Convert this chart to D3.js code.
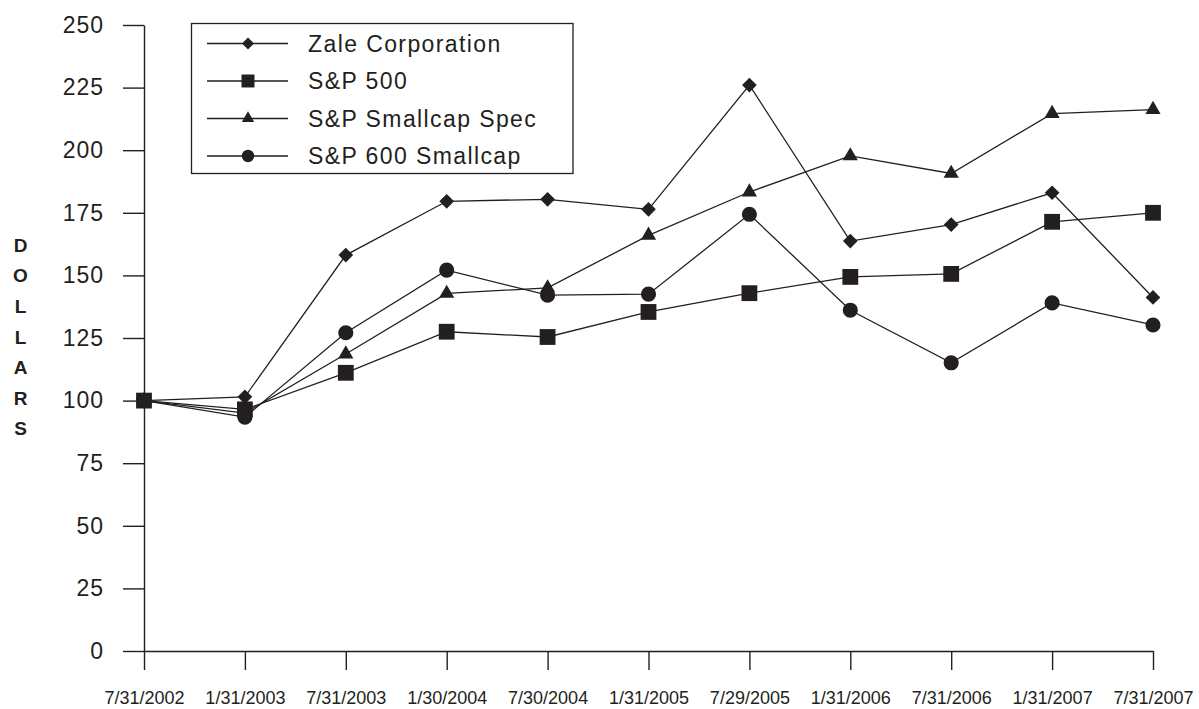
<!DOCTYPE html>
<html>
<head>
<meta charset="utf-8">
<script src="https://cdn.jsdelivr.net/npm/d3@7"></script>
<style>
  body { margin: 0; background: #fff; }
  svg { display: block; font-family: "Liberation Sans", Arial, Helvetica, sans-serif; }
</style>
</head>
<body>
<svg id="drawing_region"></svg>
<script>
// data
const dates = ['7/31/2002', '1/31/2003', '7/31/2003', '1/30/2004', '7/30/2004', '1/31/2005',
               '7/29/2005', '1/31/2006', '7/31/2006', '1/31/2007', '7/31/2007'];
const zale       = [100, 101.5, 158.1, 179.6, 180.4, 176.4, 226.0, 163.7, 170.3, 183.0, 141.2];
const sp500      = [100, 96.5, 111.1, 127.5, 125.4, 135.4, 142.9, 149.4, 150.6, 171.4, 175.0];
const spSmallcapSpec = [100, 95.0, 118.6, 142.8, 145.0, 166.0, 183.3, 197.7, 190.7, 214.6, 216.2];
const sp600      = [100, 93.4, 127.1, 152.1, 142.1, 142.5, 174.4, 136.1, 115.1, 139.0, 130.2];
const seriesNames = ['Zale Corporation', 'S&P 500', 'S&P Smallcap Spec', 'S&P 600 Smallcap'];
const yTicks = [0, 25, 50, 75, 100, 125, 150, 175, 200, 225, 250];
const ylabel = 'DOLLARS';

const ink = '#231f20';
const config = {
    width: 1199,
    height: 709,
    left: 144,
    right: 1153,
    top: 25,
    bottom: 651
};

const series = [
    { name: seriesNames[0], values: zale, shape: 'diamond' },
    { name: seriesNames[1], values: sp500, shape: 'square' },
    { name: seriesNames[2], values: spSmallcapSpec, shape: 'triangle' },
    { name: seriesNames[3], values: sp600, shape: 'circle' }
];

const svg = d3.select('#drawing_region')
    .attr('width', config.width)
    .attr('height', config.height);

const xscale = d3.scalePoint()
    .domain(dates)
    .range([config.left, config.right]);
const yscale = d3.scaleLinear()
    .domain([0, 250])
    .range([config.bottom, config.top]);

// marker shapes; big = chart, small = legend
function marker(shape, big) {
    const s = big ? 1 : 0.82;
    if (shape === 'diamond') return { path: d3.symbol(d3.symbolSquare, 108 * s * s)(), rot: 45 };
    if (shape === 'square') return { path: d3.symbol(d3.symbolSquare, 250 * s * s)(), rot: 0 };
    if (shape === 'triangle') return { path: d3.symbol(d3.symbolTriangle, 100 * s * s)(), rot: 0 };
    return { path: d3.symbol(d3.symbolCircle, 180 * s * s)(), rot: 0 };
}

// axes
const yaxis = d3.axisLeft(yscale)
    .tickValues(yTicks)
    .tickSize(21)
    .tickSizeOuter(0)
    .tickPadding(19);
const xaxis = d3.axisBottom(xscale)
    .tickSize(19)
    .tickSizeOuter(0)
    .tickPadding(21);

const yg = svg.append('g')
    .attr('transform', `translate(${config.left}, 0)`)
    .call(yaxis);
yg.selectAll('text')
    .style('font-size', '23px')
    .style('letter-spacing', '1px')
    .attr('fill', ink);

const xg = svg.append('g')
    .attr('transform', `translate(0, ${config.bottom})`)
    .call(xaxis);
xg.selectAll('text')
    .style('font-size', '18px')
    .attr('fill', ink);

svg.selectAll('.domain, .tick line')
    .attr('stroke', ink)
    .attr('stroke-width', 1.4);

// y label, letters stacked
svg.append('g').selectAll('text')
    .data(ylabel.split(''))
    .join('text')
    .attr('x', 20.5)
    .attr('y', (d, i) => 245 + i * 30.6)
    .attr('dy', '0.36em')
    .attr('text-anchor', 'middle')
    .style('font-size', '19px')
    .style('font-weight', 'bold')
    .attr('fill', ink)
    .text(d => d);

// lines
const line = d3.line()
    .x((d, i) => xscale(dates[i]))
    .y(d => yscale(d));

svg.append('g').selectAll('path')
    .data(series)
    .join('path')
    .attr('d', d => line(d.values))
    .attr('fill', 'none')
    .attr('stroke', ink)
    .attr('stroke-width', 1.3);

// markers
series.forEach(s => {
    const m = marker(s.shape, true);
    svg.append('g').selectAll('path')
        .data(s.values)
        .join('path')
        .attr('d', m.path)
        .attr('transform', (d, i) => `translate(${xscale(dates[i])}, ${yscale(d)}) rotate(${m.rot})`)
        .attr('fill', ink);
});

// legend
const legend = svg.append('g');
legend.append('rect')
    .attr('x', 191.5)
    .attr('y', 23.5)
    .attr('width', 381.5)
    .attr('height', 150)
    .attr('fill', '#fff')
    .attr('stroke', ink)
    .attr('stroke-width', 1.3);

const rows = legend.selectAll('g')
    .data(series)
    .join('g')
    .attr('transform', (d, i) => `translate(0, ${43.5 + i * 37.5})`);
rows.append('line')
    .attr('x1', 207)
    .attr('x2', 288)
    .attr('stroke', ink)
    .attr('stroke-width', 1.3);
rows.append('path')
    .attr('d', d => marker(d.shape, false).path)
    .attr('transform', d => `translate(248, 0) rotate(${marker(d.shape, false).rot})`)
    .attr('fill', ink);
rows.append('text')
    .attr('x', 308)
    .attr('dy', '0.36em')
    .style('font-size', '23px')
    .style('letter-spacing', '1.4px')
    .attr('fill', ink)
    .text(d => d.name);
</script>
</body>
</html>
